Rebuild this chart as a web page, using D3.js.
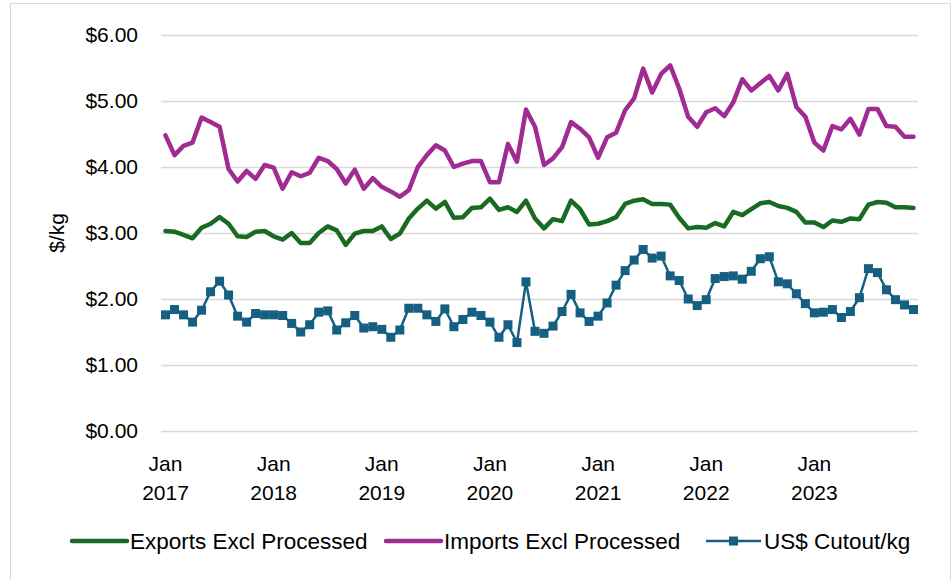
<!DOCTYPE html>
<html>
<head>
<meta charset="utf-8">
<script src="https://cdn.jsdelivr.net/npm/d3@7"></script>
<style>
  html, body { margin: 0; padding: 0; background: #fff; }
  svg { display: block; font-family: "Liberation Sans", Arial, sans-serif; }
</style>
</head>
<body>
<svg id="chart" width="952" height="580"></svg>
<script>
const years = [2017, 2018, 2019, 2020, 2021, 2022, 2023];
const monthNames = ["Jan","Feb","Mar","Apr","May","Jun","Jul","Aug","Sep","Oct","Nov","Dec"];
const months = years.flatMap(y => monthNames.map(m => m + " " + y));
const yTicks = [0, 1, 2, 3, 4, 5, 6];

const exportsExcl = [
  3.03, 3.02, 2.97, 2.92, 3.08, 3.14, 3.24, 3.14, 2.95, 2.94, 3.02, 3.03,
  2.95, 2.90, 3.00, 2.85, 2.85, 3.00, 3.10, 3.04, 2.82, 2.99, 3.03, 3.03,
  3.10, 2.91, 2.99, 3.22, 3.37, 3.49, 3.37, 3.47, 3.23, 3.24, 3.38, 3.39,
  3.52, 3.35, 3.39, 3.32, 3.49, 3.22, 3.07, 3.21, 3.18, 3.49, 3.36, 3.13,
  3.14, 3.18, 3.24, 3.44, 3.49, 3.51, 3.44, 3.44, 3.43, 3.23, 3.07, 3.09,
  3.08, 3.15, 3.10, 3.32, 3.27, 3.36, 3.45, 3.47, 3.41, 3.38, 3.32, 3.16,
  3.16, 3.09, 3.19, 3.17, 3.22, 3.21, 3.43, 3.47, 3.46, 3.39, 3.39, 3.38
];
const importsExcl = [
  4.48, 4.18, 4.32, 4.37, 4.75, 4.68, 4.61, 3.97, 3.78, 3.94, 3.82, 4.03,
  3.99, 3.67, 3.92, 3.86, 3.91, 4.14, 4.09, 3.97, 3.75, 3.96, 3.67, 3.83,
  3.70, 3.63, 3.55, 3.65, 4.00, 4.18, 4.33, 4.25, 4.00, 4.05, 4.09, 4.09,
  3.77, 3.77, 4.35, 4.08, 4.87, 4.61, 4.03, 4.13, 4.30, 4.68, 4.58, 4.45,
  4.14, 4.45, 4.52, 4.86, 5.04, 5.49, 5.13, 5.41, 5.54, 5.19, 4.76, 4.61,
  4.83, 4.89, 4.77, 4.98, 5.33, 5.16, 5.27, 5.38, 5.16, 5.41, 4.91, 4.76,
  4.37, 4.25, 4.62, 4.57, 4.73, 4.49, 4.88, 4.88, 4.62, 4.61, 4.46, 4.46
];
const usCutout = [
  1.76, 1.84, 1.76, 1.65, 1.83, 2.11, 2.27, 2.06, 1.74, 1.65, 1.78, 1.76,
  1.76, 1.75, 1.63, 1.50, 1.61, 1.80, 1.82, 1.53, 1.64, 1.75, 1.56, 1.58,
  1.54, 1.42, 1.53, 1.86, 1.86, 1.76, 1.66, 1.85, 1.58, 1.69, 1.80, 1.75,
  1.65, 1.42, 1.61, 1.34, 2.26, 1.51, 1.48, 1.59, 1.81, 2.07, 1.79, 1.66,
  1.74, 1.94, 2.21, 2.43, 2.59, 2.75, 2.62, 2.65, 2.35, 2.28, 2.00, 1.90,
  1.99, 2.31, 2.34, 2.35, 2.30, 2.42, 2.61, 2.64, 2.26, 2.23, 2.08, 1.93,
  1.79, 1.80, 1.84, 1.72, 1.81, 2.02, 2.46, 2.40, 2.14, 1.99, 1.91, 1.84
];

const seriesNames = ["Exports Excl Processed", "Imports Excl Processed", "US$ Cutout/kg"];
const seriesColors = ["#196B24", "#A02B93", "#156082"];

const svg = d3.select("#chart");
const plot = { left: 161, right: 918, top: 35, bottom: 431 };

// outer frame
svg.append("rect").attr("x", 10.5).attr("y", 3.5).attr("width", 940).attr("height", 580)
  .attr("fill", "none").attr("stroke", "#d9d9d9").attr("stroke-width", 1);

const x = d3.scaleBand().domain(months).range([plot.left, plot.right]).paddingInner(0).paddingOuter(0);
const y = d3.scaleLinear().domain([0, 6]).range([plot.bottom, plot.top]);
const cx = m => x(m) + x.bandwidth() / 2;

// gridlines + y axis labels
const yAxis = d3.axisLeft(y).tickValues(yTicks).tickFormat(d => "$" + d.toFixed(2))
  .tickSize(-(plot.right - plot.left)).tickPadding(23);
const gy = svg.append("g").attr("transform", `translate(${plot.left},0)`).call(yAxis);
gy.select(".domain").remove();
gy.selectAll(".tick line").attr("stroke", "#d9d9d9").attr("stroke-width", 1.5);
gy.selectAll(".tick text").attr("font-size", 21).attr("fill", "#000")
  .attr("font-family", "'Liberation Sans', Arial, sans-serif");

// x axis
const janTicks = months.filter(m => m.startsWith("Jan"));
const xAxis = d3.axisBottom(x).tickValues(janTicks).tickSize(0).tickPadding(0);
const gx = svg.append("g").attr("transform", `translate(0,${plot.bottom})`).call(xAxis);
gx.select(".domain").remove();
gx.selectAll(".tick text").each(function(d) {
  const t = d3.select(this);
  const parts = d.split(" ");
  t.text(null).attr("y", 0).attr("dy", null).attr("font-size", 21).attr("fill", "#000")
    .attr("font-family", "'Liberation Sans', Arial, sans-serif");
  t.append("tspan").attr("x", 0).attr("y", 40).text(parts[0]);
  t.append("tspan").attr("x", 0).attr("y", 69).text(parts[1]);
});

// y title
svg.append("text").attr("transform", "translate(64,233) rotate(-90)")
  .attr("text-anchor", "middle").attr("font-size", 21).attr("fill", "#000").text("$/kg");

const line = d3.line().x((d, i) => cx(months[i])).y(d => y(d));

svg.append("path").datum(exportsExcl).attr("d", line).attr("fill", "none")
  .attr("stroke", seriesColors[0]).attr("stroke-width", 4.5).attr("stroke-linejoin", "round").attr("stroke-linecap", "round");
svg.append("path").datum(importsExcl).attr("d", line).attr("fill", "none")
  .attr("stroke", seriesColors[1]).attr("stroke-width", 4.5).attr("stroke-linejoin", "round").attr("stroke-linecap", "round");
svg.append("path").datum(usCutout).attr("d", line).attr("fill", "none")
  .attr("stroke", seriesColors[2]).attr("stroke-width", 2.5).attr("stroke-linejoin", "round");
svg.append("g").selectAll("rect").data(usCutout).join("rect")
  .attr("x", (d, i) => cx(months[i]) - 4.5).attr("y", d => y(d) - 4.5)
  .attr("width", 9).attr("height", 9).attr("fill", seriesColors[2]);

// legend
const legendItems = [
  { name: seriesNames[0], color: seriesColors[0], x0: 72, marker: false, w: 4.5 },
  { name: seriesNames[1], color: seriesColors[1], x0: 386, marker: false, w: 4.5 },
  { name: seriesNames[2], color: seriesColors[2], x0: 706, marker: true, w: 2.5 }
];
const lg = svg.append("g");
legendItems.forEach(it => {
  const g = lg.append("g");
  g.append("line").attr("x1", it.x0).attr("x2", it.x0 + 55).attr("y1", 541).attr("y2", 541)
    .attr("stroke", it.color).attr("stroke-width", it.w).attr("stroke-linecap", it.marker ? "butt" : "round");
  if (it.marker) {
    g.append("rect").attr("x", it.x0 + 27.5 - 4.5).attr("y", 541 - 4.5).attr("width", 9).attr("height", 9).attr("fill", it.color);
  }
  g.append("text").attr("x", it.x0 + 58).attr("y", 549).attr("font-size", 22.5).attr("fill", "#000").text(it.name);
});
</script>
</body>
</html>
